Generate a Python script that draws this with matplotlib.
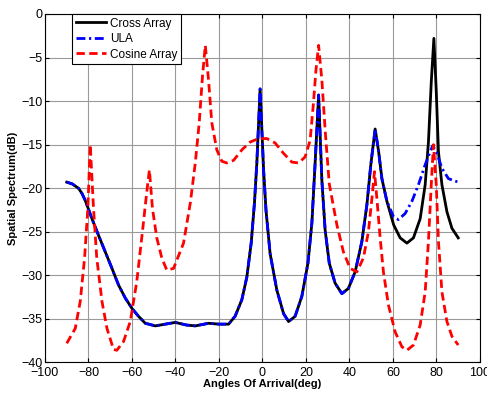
import matplotlib.pyplot as plt

# MUSIC spectra (angle in deg, level in dB)
# Cross Array and ULA share the same curve up to ~57 deg
shared_deg = [-90, -87.5, -84.6, -83.0, -81.5, -78.4, -75.4, -72.3, -69.2,
              -66.2, -63.1, -60.0, -57.0, -53.9, -49.3, -44.7, -40.1, -35.0,
              -30.9, -24.8, -20.0, -15.6, -12.6, -9.5, -7.2, -5.2, -3.7,
              -2.6, -1.1, 0.5, 1.6, 3.5, 6.6, 9.7, 12.0, 15.0, 18.1, 20.9,
              22.7, 24.2, 25.8, 27.3, 28.8, 30.7, 33.4, 36.5, 39.5, 42.6,
              45.7, 48.0, 49.8, 51.8, 53.4, 54.9, 57.2]
shared_db = [-19.3, -19.5, -20.0, -20.6, -21.4, -23.5, -25.4, -27.3, -29.2,
             -31.1, -32.6, -33.8, -34.7, -35.5, -35.8, -35.6, -35.4, -35.7,
             -35.8, -35.5, -35.6, -35.6, -34.7, -32.8, -30.2, -26.3, -21.7,
             -17.1, -8.6, -17.9, -22.5, -27.5, -31.7, -34.4, -35.3, -34.7,
             -32.4, -28.6, -24.0, -17.1, -9.3, -19.1, -24.8, -28.6, -30.9,
             -32.1, -31.5, -29.6, -26.1, -21.9, -17.3, -13.2, -15.8, -18.9,
             -21.5]

cross_tail_deg = [60.3, 63.3, 66.4, 69.4, 72.5, 74.8, 76.3, 77.6, 78.8, 79.9,
                  80.9, 82.5, 84.8, 87.1, 90]
cross_tail_db = [-24.2, -25.7, -26.3, -25.7, -23.5, -19.6, -14.7, -7.8, -2.8,
                 -8.9, -15.8, -19.6, -22.7, -24.6, -25.7]

ula_tail_deg = [60.3, 62.5, 65.6, 68.7, 71.7, 74.8, 77.1, 78.3, 80.2, 82.5,
                85.5, 90]
ula_tail_db = [-23.3, -23.6, -22.9, -21.5, -19.6, -17.3, -15.8, -15.1, -16.0,
               -17.7, -18.9, -19.3]

cosine_deg = [-90, -86.1, -83.8, -81.8, -80.3, -79.2, -77.7, -76.2, -73.8,
              -71.5, -68.5, -67.0, -63.9, -60.8, -57.8, -55.2, -53.2, -52.0,
              -50.6, -48.6, -46.3, -44.0, -40.9, -36.3, -33.2, -30.9, -29.1,
              -27.6, -26.3, -24.8, -23.3, -21.0, -18.7, -16.4, -13.3, -9.5,
              -5.7, -1.8, 2.0, 5.8, 9.7, 13.5, 16.6, 19.6, 21.9, 23.4, 24.6,
              25.8, 27.3, 28.8, 30.7, 34.2, 37.2, 40.3, 43.4, 46.4, 48.7,
              50.3, 51.5, 52.6, 54.1, 55.6, 57.9, 61.0, 64.1, 66.4, 69.4,
              72.5, 74.8, 76.3, 77.6, 78.6, 79.9, 80.9, 82.5, 84.8, 87.1, 90]
cosine_db = [-37.8, -36.1, -33.0, -28.0, -22.3, -15.0, -22.3, -28.0, -33.0,
             -36.1, -38.5, -38.6, -37.6, -35.3, -30.7, -25.0, -20.4, -17.9,
             -22.3, -25.7, -28.0, -29.4, -29.2, -26.3, -21.7, -17.1, -12.5,
             -7.2, -3.6, -7.6, -12.5, -15.6, -16.9, -17.1, -16.8, -15.6,
             -14.7, -14.3, -14.3, -14.8, -16.0, -17.0, -17.1, -16.4, -14.5,
             -10.3, -6.4, -3.6, -7.6, -13.3, -19.5, -24.2, -27.3, -29.2,
             -29.6, -28.0, -25.0, -21.2, -18.1, -21.2, -25.7, -29.6, -33.4,
             -36.5, -38.2, -38.6, -38.0, -35.7, -31.9, -26.1, -19.6, -15.0,
             -19.6, -26.1, -31.9, -35.3, -37.0, -38.0]

xticks = list(range(-100, 101, 20))
yticks = list(range(-40, 1, 5))

plt.rcParams['font.family'] = ['Liberation Sans', 'DejaVu Sans']

fig = plt.figure(figsize=(4.87, 3.94), dpi=100)
ax = fig.add_axes([0.0924, 0.080, 0.8932, 0.8845])

ax.plot(shared_deg + cross_tail_deg, shared_db + cross_tail_db,
        color='black', lw=2, label='Cross Array')
ax.plot(shared_deg + ula_tail_deg, shared_db + ula_tail_db,
        color='blue', lw=2, dashes=(3.2, 1.3, 0.8, 1.3), label='ULA')
ax.plot(cosine_deg, cosine_db, color='red', lw=2, dashes=(3, 1.6),
        label='Cosine Array')

ax.set_xlim(-100, 100)
ax.set_ylim(-40, 0)
ax.set_xticks(xticks)
ax.set_yticks(yticks)
ax.tick_params(direction='in', top=True, right=True, length=3, labelsize=9,
               pad=2)
ax.tick_params(axis='x', pad=3)
ax.grid(True, color='#9a9a9a', lw=0.8)
ax.set_axisbelow(True)
for s in ax.spines.values():
    s.set_linewidth(0.8)

ax.set_xlabel('Angles Of Arrival(deg)', fontsize=8, fontweight='bold',
              labelpad=0)
ax.set_ylabel('Spatial Spectrum(dB)', fontsize=8, fontweight='bold',
              labelpad=2)

leg = ax.legend(loc='upper left', bbox_to_anchor=(0.062, 1.0),
                borderaxespad=0, fontsize=8.5, fancybox=False, framealpha=1,
                edgecolor='black', handlelength=2.6, handletextpad=0.3,
                borderpad=0.3, labelspacing=0.3)
leg.get_frame().set_linewidth(0.8)

fig.savefig('out.png', dpi=100)
